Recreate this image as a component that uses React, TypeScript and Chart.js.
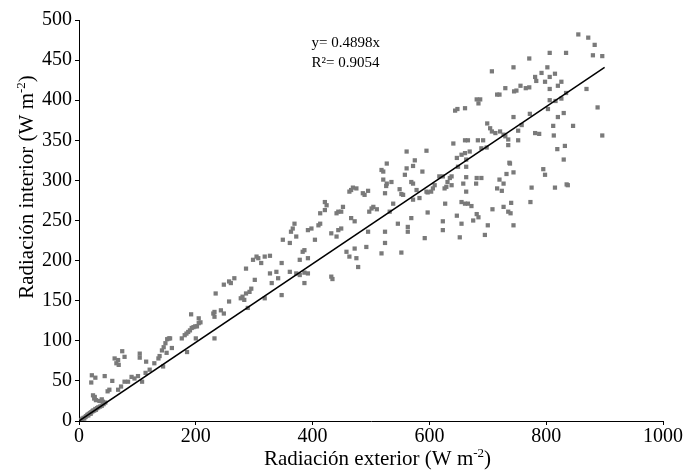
import { useEffect, useRef } from "react";
import { Chart, registerables } from "chart.js";

Chart.register(...registerables);

// [Radiación exterior, Radiación interior] in W m-2
const lowRange: [number, number][] = [
  [3, 1], [5, 2], [6, 3], [8, 4], [9, 3], [11, 5], [12, 6], [14, 7], [15, 8], [16, 7],
  [17, 9], [19, 10], [20, 9], [21, 11], [23, 12], [24, 13], [26, 13], [28, 15], [29, 14], [31, 16],
  [33, 17], [36, 18], [39, 19], [42, 21], [45, 23],
  [22, 57], [28, 54], [21, 48], [24, 32], [26, 28], [29, 26], [27, 30], [35, 25], [39, 27], [41, 24],
  [44, 56], [49, 37], [52, 39], [57, 50], [61, 78], [64, 72], [67, 76], [68, 70], [74, 87], [78, 80],
  [67, 39], [72, 43], [78, 49], [84, 49], [90, 55], [95, 53], [101, 56], [108, 49], [104, 84], [104, 79],
  [115, 74], [114, 60], [121, 64], [129, 72], [136, 78], [138, 81], [142, 88], [145, 92], [148, 97], [151, 102],
  [154, 103], [156, 103], [144, 68], [159, 91], [150, 85],
  [176, 103], [181, 107], [184, 109], [187, 111], [190, 113], [193, 116], [196, 117], [199, 118], [202, 118], [205, 122],
  [208, 123], [192, 133], [205, 128], [200, 103], [185, 86],
  [232, 103], [230, 134], [232, 136], [232, 130], [234, 159], [243, 138], [248, 134],
  [248, 170], [257, 174], [260, 172], [266, 178], [286, 190], [257, 149],
  [277, 153], [280, 155], [286, 159], [292, 161], [289, 141], [283, 151],
];

const midRange: [number, number][] = [
  [301, 176], [295, 165], [318, 153], [330, 172], [327, 184], [338, 186], [341, 178], [347, 197], [347, 157],
  [298, 201], [304, 205], [307, 203], [312, 197], [318, 205], [327, 206],
  [349, 226], [361, 222], [363, 236], [366, 240], [369, 246], [372, 230], [361, 186], [372, 184], [378, 182],
  [386, 172], [386, 185], [392, 184],
  [378, 201], [383, 211], [386, 213], [392, 203], [392, 238], [398, 240], [404, 226], [410, 244], [413, 246],
  [413, 259], [421, 263], [421, 273], [424, 269], [432, 234], [441, 230], [444, 238], [449, 240], [458, 211],
  [463, 205], [472, 215], [475, 203], [478, 192], [492, 217], [495, 236], [497, 261], [486, 284], [489, 282],
  [495, 287], [432, 180], [434, 177],
  [561, 336], [595, 337], [527, 321], [518, 313], [521, 311], [561, 315], [572, 318], [575, 325], [588, 311],
  [558, 307], [521, 301], [527, 296], [526, 293], [535, 298], [466, 288], [469, 291], [475, 290], [463, 286],
  [524, 284], [538, 271], [549, 289], [555, 282], [552, 283],
  [444, 261], [441, 259], [449, 261], [452, 267], [466, 253], [472, 249],
  [504, 267], [510, 264], [501, 265], [524, 236], [524, 222], [518, 209], [532, 261], [546, 246], [552, 210],
  [563, 242], [563, 236], [569, 253],
  [572, 276], [583, 278], [578, 288], [572, 296], [569, 298], [592, 228], [597, 260], [597, 285], [595, 286],
  [603, 286], [606, 290], [609, 294],
  [617, 305], [623, 305], [631, 298], [629, 292], [626, 290], [623, 249], [623, 238], [627, 271],
];

const highRange: [number, number][] = [
  [855, 482], [872, 478], [883, 469], [880, 456], [896, 455],
  [806, 459], [834, 459], [771, 452], [744, 441], [707, 436], [802, 441],
  [792, 434], [781, 429], [783, 424], [798, 423], [806, 429], [815, 433], [826, 423], [820, 418], [806, 414],
  [756, 418], [765, 415], [771, 416], [745, 411], [749, 412], [730, 415], [716, 407], [720, 407],
  [687, 401], [681, 401], [684, 396], [644, 387], [648, 389], [661, 390],
  [806, 400], [816, 399], [826, 402], [834, 409], [869, 414],
  [744, 379], [772, 383], [803, 389], [820, 379], [830, 384], [888, 391], [846, 368], [812, 368], [813, 356], [896, 356],
  [699, 371], [704, 365], [707, 361], [713, 359], [721, 361], [727, 357], [730, 355], [735, 351], [752, 362],
  [758, 369], [752, 350], [735, 344], [738, 321],
  [641, 346], [661, 350], [666, 350], [683, 350], [692, 350], [689, 340], [698, 341], [669, 336], [661, 334],
  [655, 332], [647, 328], [663, 326], [663, 317], [649, 317], [638, 305],
  [781, 359], [788, 358], [832, 343], [819, 339], [830, 326],
  [795, 314], [798, 307],
  [635, 303], [638, 294], [658, 296], [663, 304], [681, 303], [689, 303], [680, 296], [663, 286],
  [720, 301], [727, 296], [716, 290], [724, 287], [732, 308], [744, 310], [737, 322],
  [775, 291], [773, 273], [815, 291], [835, 295], [837, 294],
  [655, 273], [661, 271], [666, 271], [672, 268], [647, 256], [681, 258], [684, 254], [675, 250], [655, 246],
  [652, 229], [695, 232], [700, 244], [744, 244], [708, 264], [727, 267], [735, 261], [739, 259], [740, 272],
];

const xTicks = [0, 200, 400, 600, 800, 1000];
const yTicks = [0, 50, 100, 150, 200, 250, 300, 350, 400, 450, 500];
const trendSlope = 0.4898;
const trendRange = [0, 900];
const equationText = "y= 0.4898x";
const r2Text = "R²= 0.9054";
const xTitle: [string, string, string] = ["Radiación exterior (W m", "-2", ")"];
const yTitle: [string, string, string] = ["Radiación interior (W m", "-2", ")"];

const FONT = '"Liberation Serif", "Times New Roman", serif';

function drawSupTitle(
  ctx: CanvasRenderingContext2D,
  parts: [string, string, string],
  cx: number,
  baseline: number,
  size: number
) {
  const supSize = Math.round(size * 0.62);
  ctx.font = `${size}px ${FONT}`;
  const w1 = ctx.measureText(parts[0]).width;
  const w3 = ctx.measureText(parts[2]).width;
  ctx.font = `${supSize}px ${FONT}`;
  const w2 = ctx.measureText(parts[1]).width;
  const total = w1 + w2 + w3;
  let x = cx - total / 2;
  ctx.textAlign = "left";
  ctx.textBaseline = "alphabetic";
  ctx.fillStyle = "#000";
  ctx.font = `${size}px ${FONT}`;
  ctx.fillText(parts[0], x, baseline);
  x += w1;
  ctx.font = `${supSize}px ${FONT}`;
  ctx.fillText(parts[1], x, baseline - size * 0.36);
  x += w2;
  ctx.font = `${size}px ${FONT}`;
  ctx.fillText(parts[2], x, baseline);
}

const textPlugin = {
  id: "textPlugin",
  afterDraw(chart: Chart) {
    const ctx = chart.ctx;
    const xs = chart.scales.x;
    const ys = chart.scales.y;
    ctx.save();
    ctx.font = `15px ${FONT}`;
    ctx.fillStyle = "#000";
    ctx.textAlign = "left";
    ctx.textBaseline = "alphabetic";
    const ex = xs.getPixelForValue(398);
    ctx.fillText(equationText, ex, ys.getPixelForValue(466));
    ctx.fillText(r2Text, ex, ys.getPixelForValue(442));
    drawSupTitle(ctx, xTitle, 377.5, 464.5, 21);
    ctx.translate(33, 187);
    ctx.rotate(-Math.PI / 2);
    drawSupTitle(ctx, yTitle, 0, 0, 21);
    ctx.restore();
  },
};

export default function App() {
  const ref = useRef<HTMLCanvasElement>(null);
  useEffect(() => {
    const canvas = ref.current;
    if (!canvas) return;
    const toPts = (arr: [number, number][]) => arr.map(([x, y]) => ({ x, y }));
    const points = [...toPts(lowRange), ...toPts(midRange), ...toPts(highRange)];
    const trend = trendRange.map((x) => ({ x, y: trendSlope * x }));
    const chart = new Chart(canvas, {
      type: "scatter",
      data: {
        datasets: [
          {
            type: "line",
            data: trend,
            borderColor: "#000",
            borderWidth: 1.5,
            pointRadius: 0,
            fill: false,
          } as any,
          {
            data: points,
            pointStyle: "rect",
            pointRadius: 3,
            pointBackgroundColor: "#7a7a7a",
            pointBorderWidth: 0,
            borderColor: "#7a7a7a",
          },
        ],
      },
      options: {
        responsive: false,
        animation: false,
        events: [],
        layout: { padding: { top: 20, right: 28, left: 0, bottom: 0 } },
        plugins: { legend: { display: false }, tooltip: { enabled: false } },
        scales: {
          x: {
            type: "linear",
            min: 0,
            max: 1000,
            afterBuildTicks: (s: any) => {
              s.ticks = xTicks.map((v) => ({ value: v }));
            },
            ticks: {
              color: "#000",
              font: { family: FONT, size: 20 },
              padding: 0,
              maxRotation: 0,
              autoSkip: false,
              callback: (v: any) => String(v),
            },
            grid: { display: true, drawOnChartArea: false, drawTicks: true, tickLength: 4, color: "#000" },
            border: { display: true, color: "#000", width: 1 },
            afterFit: (s: any) => {
              s.height = 49;
              s.paddingLeft = 0;
              s.paddingRight = 0;
            },
          },
          y: {
            type: "linear",
            min: 0,
            max: 500,
            afterBuildTicks: (s: any) => {
              s.ticks = yTicks.map((v) => ({ value: v }));
            },
            ticks: {
              color: "#000",
              font: { family: FONT, size: 20 },
              padding: 3,
              autoSkip: false,
              callback: (v: any) => String(v),
            },
            grid: { display: true, drawOnChartArea: false, drawTicks: true, tickLength: 4, color: "#000" },
            border: { display: true, color: "#000", width: 1 },
            afterFit: (s: any) => {
              s.width = 79;
              s.paddingTop = 0;
              s.paddingBottom = 0;
            },
          },
        },
      },
      plugins: [textPlugin],
    });
    return () => chart.destroy();
  }, []);
  return (
    <div style={{ position: "fixed", left: 0, top: 0, width: 691, height: 470, background: "#fff" }}>
      <canvas ref={ref} width={691} height={470} style={{ display: "block", width: 691, height: 470 }} />
    </div>
  );
}
